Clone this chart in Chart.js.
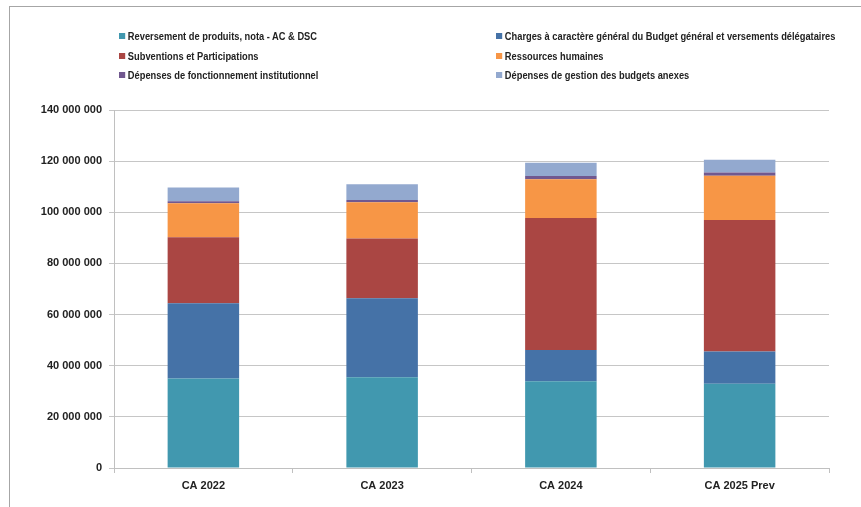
<!DOCTYPE html>
<html>
<head>
<meta charset="utf-8">
<script src="https://cdn.jsdelivr.net/npm/chart.js@4"></script>
<style>
    html, body { margin: 0; padding: 0; background: #fff; }
    #wrap { position: relative; width: 861px; height: 507px; overflow: hidden; }
    #frame { position: absolute; left: 9px; top: 6px; right: -2px; bottom: -2px;
             border-top: 1px solid #a6a6a6; border-left: 1px solid #a6a6a6; }
    #legend { position: absolute; left: 0; top: 0; font-family: "Liberation Sans", sans-serif;
              font-weight: bold; font-size: 10.5px; color: #222; }
    .item { position: absolute; white-space: nowrap; line-height: 12px;
            transform: scaleX(0.885); transform-origin: left center; }
    .item span { display: inline-block; width: 7px; height: 6px; margin-right: 3px; vertical-align: 1px; }
    canvas { position: absolute; left: 0; top: 0; }
</style>
</head>
<body>
<div id="wrap">
    <div id="frame"></div>
    <canvas id="budget_plot" width="861" height="507"></canvas>
    <div id="legend"></div>
</div>
<script>
const labels = ['CA 2022', 'CA 2023', 'CA 2024', 'CA 2025 Prev'];

const seriesNames = [
    'Reversement de produits, nota - AC & DSC',
    'Charges à caractère général du Budget général et versements délégataires',
    'Subventions et Participations',
    'Ressources humaines',
    'Dépenses de fonctionnement institutionnel',
    'Dépenses de gestion des budgets anexes'
];
const seriesColors = ['#4198AF', '#4572A7', '#AA4643', '#F79646', '#71588F', '#93A9CF'];

// values in euros
const reversement = [35000000, 35500000, 33900000, 32900000];
const charges = [29400000, 30900000, 12200000, 12700000];
const subventions = [25800000, 23300000, 51700000, 51400000];
const ressources = [13300000, 14200000, 15100000, 17300000];
const fonctionnement = [800000, 900000, 1300000, 1300000];
const budgetsAnexes = [5400000, 6200000, 5200000, 4900000];

const seriesData = [reversement, charges, subventions, ressources, fonctionnement, budgetsAnexes];

function formatNumber(v) {
    return String(Math.round(v)).replace(/\B(?=(\d{3})+(?!\d))/g, ' ');
}

const font = { family: '"Liberation Sans", sans-serif', size: 11, weight: 'bold' };

var ctx = document.getElementById('budget_plot').getContext('2d');
var myChart = new Chart(ctx, {
    type: 'bar',
    data: {
        labels: labels,
        datasets: seriesData.map((d, i) => ({
            label: seriesNames[i],
            backgroundColor: seriesColors[i],
            borderWidth: 0,
            data: d
        }))
    },
    options: {
        responsive: false,
        animation: false,
        barPercentage: 0.4,
        categoryPercentage: 1.0,
        plugins: {
            legend: { display: false },
            tooltip: { enabled: false }
        },
        layout: {
            padding: { left: 0, right: 32, top: 110, bottom: 0 }
        },
        scales: {
            x: {
                stacked: true,
                afterFit: (scale) => { scale.height = 39; },
                grid: {
                    offset: true,
                    drawOnChartArea: false,
                    drawTicks: true,
                    tickLength: 5,
                    color: '#c0c0c0'
                },
                border: { display: true, color: '#c0c0c0' },
                ticks: { color: '#222', font: font, padding: 6 }
            },
            y: {
                stacked: true,
                min: 0,
                max: 140000000,
                afterFit: (scale) => { scale.width = 114; },
                grid: {
                    color: '#c6c6c6',
                    tickLength: 5
                },
                border: { display: true, color: '#c0c0c0' },
                ticks: {
                    stepSize: 20000000,
                    color: '#222',
                    font: font,
                    padding: 7,
                    callback: (v) => formatNumber(v)
                }
            }
        }
    }
});

// two-column legend like the original
const legendBox = document.getElementById('legend');
const colX = [119, 496];
const rowY = [30, 50, 69];
seriesNames.forEach((name, i) => {
    const el = document.createElement('div');
    el.className = 'item';
    el.style.left = colX[i % 2] + 'px';
    el.style.top = rowY[Math.floor(i / 2)] + 'px';
    el.innerHTML = '<span style="background:' + seriesColors[i] + '"></span>' + name;
    legendBox.appendChild(el);
});
</script>
</body>
</html>
